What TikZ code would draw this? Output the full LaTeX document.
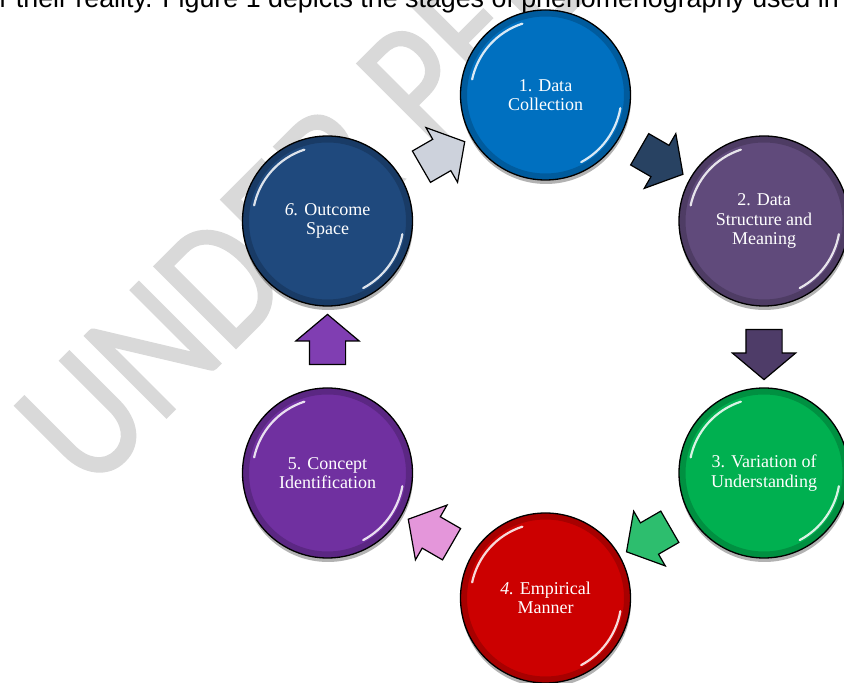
\documentclass[tikz,border=0pt]{standalone}
\usepackage{fontspec}
\setmainfont{Liberation Serif}
\newfontfamily\linefont{Liberation Sans}
\newfontfamily\wmfont[FakeBold=1]{Carlito}
\usetikzlibrary{shapes.arrows,shadows,calc}

\definecolor{stageA}{RGB}{0,112,192}
\definecolor{stageB}{RGB}{96,74,123}
\definecolor{stageC}{RGB}{0,176,80}
\definecolor{stageD}{RGB}{204,0,0}
\definecolor{stageE}{RGB}{112,48,160}
\definecolor{stageF}{RGB}{31,73,125}
\definecolor{flowA}{RGB}{40,66,98}
\definecolor{flowB}{RGB}{78,60,104}
\definecolor{flowC}{RGB}{45,190,110}
\definecolor{flowD}{RGB}{228,150,218}
\definecolor{flowE}{RGB}{128,62,178}
\definecolor{flowF}{RGB}{205,210,220}
\definecolor{markgray}{RGB}{217,217,217}

\tikzset{
  stage/.style={circle, draw=black, line width=1.3pt, fill=#1,
    minimum size=170pt, inner sep=0pt, align=center, text=white,
    font=\fontsize{18}{19.3}\selectfont,
    drop shadow={shadow xshift=0.5pt, shadow yshift=-4pt, opacity=0.3, fill=black},
    path picture={
      \draw[black, opacity=0.18, line width=7pt] (path picture bounding box.center) circle (82pt);
      \draw[white, opacity=0.85, line width=2.2pt, line cap=round] ([shift={(108:75pt)}]path picture bounding box.center) arc[start angle=108, end angle=168, radius=75pt];
      \draw[white, opacity=0.85, line width=2.2pt, line cap=round] ([shift={(-10:76pt)}]path picture bounding box.center) arc[start angle=-10, end angle=-62, radius=76pt];
    }},
  flow/.style={single arrow, draw=black, line width=1.2pt, fill=#1,
    minimum height=50pt, inner xsep=0pt, inner ysep=17.5pt,
    single arrow head extend=13.5pt, single arrow tip angle=100},
}

\begin{document}
\begin{tikzpicture}[x=1pt,y=1pt]
\useasboundingbox (0,0) rectangle (844,683);
\fill[white] (0,0) rectangle (844,683);
\clip (0,0) rectangle (844,683);

% watermark and text line
\node[anchor=base west, rotate=45, xscale=0.85, inner sep=0pt, text=markgray, font=\wmfont\fontsize{180}{180}\selectfont] (mark) at (89,188) {UNDER PEER REVIEW};
\node[anchor=base east, inner sep=0pt, font=\linefont\fontsize{26.8}{30}\selectfont] (topline) at (839,675) {r their reality. Figure 1 depicts the stages of phenomenography used in};

% stages
\node[stage=stageA] (s1) at (545.5,588) {1. Data\\Collection};
\node[stage=stageB] (s2) at (764,462) {2. Data\\Structure and\\Meaning};
\node[stage=stageC] (s3) at (764,210) {3. Variation of\\Understanding};
\node[stage=stageD] (s4) at (545.5,85) {\textit{4.} Empirical\\Manner};
\node[stage=stageE] (s5) at (327.5,210) {5. Concept\\Identification};
\node[stage=stageF] (s6) at (327.5,462) {\textit{6.} Outcome\\Space};

% arrows
\node[flow=flowA, rotate=-30] (f12) at ($(s1)!0.5!(s2)$) {};
\node[flow=flowB, rotate=-90] (f23) at ($(s2)!0.5!(s3)$) {};
\node[flow=flowC, rotate=-150] (f34) at ($(s3)!0.5!(s4)$) {};
\node[flow=flowD, rotate=150] (f45) at ($(s4)!0.5!(s5)$) {};
\node[flow=flowE, rotate=90] (f56) at ($(s5)!0.5!(s6)$) {};
\node[flow=flowF, rotate=30] (f61) at ($(s6)!0.5!(s1)$) {};

\end{tikzpicture}
\end{document}
